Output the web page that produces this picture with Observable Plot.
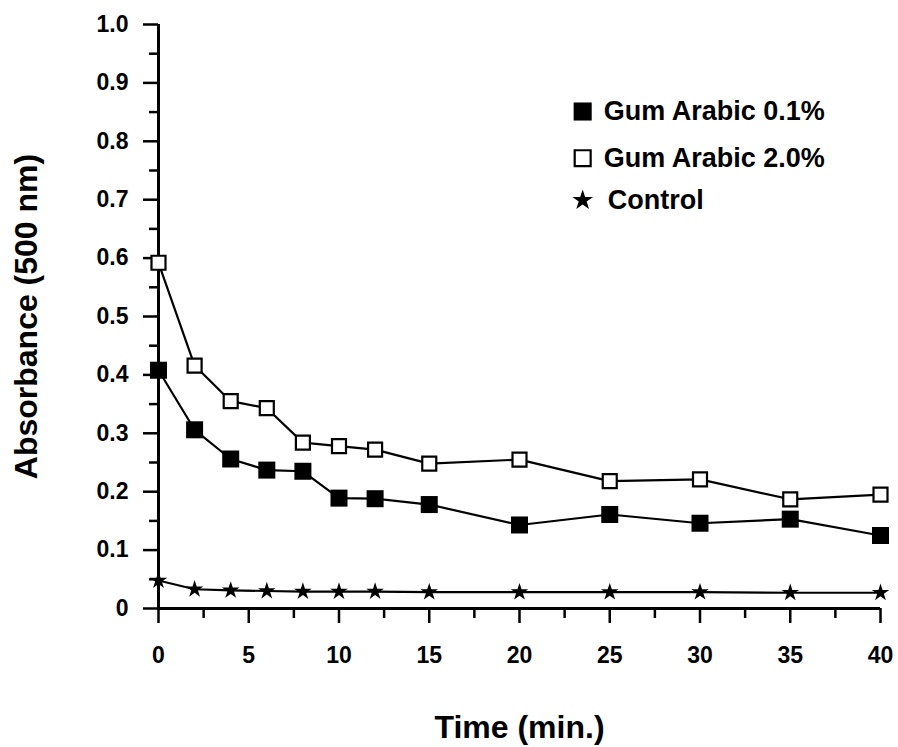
<!DOCTYPE html>
<html>
<head>
<meta charset="utf-8">
<script src="https://cdn.jsdelivr.net/npm/d3@7"></script>
<script src="https://cdn.jsdelivr.net/npm/@observablehq/plot@0.6"></script>
<style>
  html, body { margin: 0; padding: 0; background: white; }
  #chart { width: 898px; height: 747px; }
  #chart g[aria-label$="axis tick"], #chart g[aria-label$="axis tick"] path, #chart g[aria-label$="axis tick"] line { stroke-width: 2.5px !important; stroke: black; }
</style>
</head>
<body>
<div id="chart"></div>
<script>
// Data
const times   = [0, 2, 4, 6, 8, 10, 12, 15, 20, 25, 30, 35, 40];
const gum01   = [0.408, 0.306, 0.256, 0.237, 0.235, 0.189, 0.188, 0.178, 0.143, 0.161, 0.146, 0.153, 0.125];
const gum20   = [0.592, 0.416, 0.355, 0.343, 0.284, 0.278, 0.272, 0.248, 0.255, 0.218, 0.221, 0.187, 0.195];
const control = [0.048, 0.033, 0.031, 0.030, 0.029, 0.029, 0.029, 0.028, 0.028, 0.028, 0.028, 0.027, 0.027];

const seriesNames = ["Gum Arabic 0.1%", "Gum Arabic 2.0%", "Control"];
const xMajorTicks = [0, 5, 10, 15, 20, 25, 30, 35, 40];
const xMinorTicks = [2.5, 7.5, 12.5, 17.5, 22.5, 27.5, 32.5, 37.5];
const yMajorTicks = [0, 0.1, 0.2, 0.3, 0.4, 0.5, 0.6, 0.7, 0.8, 0.9, 1.0];
const yMinorTicks = [0.05, 0.15, 0.25, 0.35, 0.45, 0.55, 0.65, 0.75, 0.85, 0.95];
const xTitle = "Time (min.)";
const yTitle = "Absorbance (500 nm)";

// Legend placement (data coordinates)
const legendX = [23.5, 23.5, 23.5];
const legendY = [0.851, 0.771, 0.699];

const rows = [];
times.forEach((t, i) => {
  rows.push({t, v: gum01[i], s: seriesNames[0]});
  rows.push({t, v: gum20[i], s: seriesNames[1]});
  rows.push({t, v: control[i], s: seriesNames[2]});
});
const legend = seriesNames.map((s, i) => ({s, x: legendX[i], y: legendY[i]}));

const font = "'Liberation Sans', Arial, Helvetica, sans-serif";

const chart = Plot.plot({
  width: 898,
  height: 747,
  marginLeft: 158,
  marginRight: 18,
  marginTop: 24,
  marginBottom: 139,
  style: {fontFamily: font, fontWeight: "bold", fontSize: "23px", color: "black", background: "white", overflow: "visible"},
  x: {domain: [0, 40]},
  y: {domain: [0, 1]},
  marks: [
    // y axis ticks and labels
    Plot.axisY({ticks: yMajorTicks, tickSize: 15, tickPadding: 15, strokeWidth: 2.5,
      tickFormat: d => d === 0 ? "0" : d.toFixed(1), label: null, fontSize: 23}),
    Plot.axisY({ticks: yMinorTicks, tickSize: 9, strokeWidth: 2.5, tickFormat: () => "", label: null}),
    // x axis ticks and labels
    Plot.axisX({ticks: xMajorTicks, tickSize: 15, tickPadding: 23, strokeWidth: 2.5,
      tickFormat: d => String(d), label: null, fontSize: 23}),
    Plot.axisX({ticks: xMinorTicks, tickSize: 10, strokeWidth: 2.5, tickFormat: () => "", label: null}),
    // axis lines
    Plot.ruleX([0], {y1: 0, y2: 1, stroke: "black", strokeWidth: 3}),
    Plot.ruleY([0], {x1: 0, x2: 40, stroke: "black", strokeWidth: 3}),
    // axis titles
    Plot.text([xTitle], {frameAnchor: "bottom", textAnchor: "middle", lineAnchor: "middle", dy: 119,
      fontSize: 32, fontWeight: "bold", fill: "black"}),
    Plot.text([yTitle], {frameAnchor: "left", textAnchor: "middle", lineAnchor: "middle", rotate: -90, dx: -132,
      fontSize: 32, fontWeight: "bold", fill: "black"}),
    // series lines
    Plot.line(rows, {x: "t", y: "v", z: "s", stroke: "black", strokeWidth: 2.2}),
    // markers
    Plot.dot(rows.filter(d => d.s === seriesNames[2]), {x: "t", y: "v", symbol: "star", r: 5.5, fill: "black", stroke: "none"}),
    Plot.dot(rows.filter(d => d.s === seriesNames[1]), {x: "t", y: "v", symbol: "square", r: 7.9, fill: "white", stroke: "black", strokeWidth: 2.2}),
    Plot.dot(rows.filter(d => d.s === seriesNames[0]), {x: "t", y: "v", symbol: "square", r: 9.6, fill: "black", stroke: "none"}),
    // legend
    Plot.dot([legend[0]], {x: "x", y: "y", symbol: "square", r: 10.2, fill: "black", stroke: "none"}),
    Plot.dot([legend[1]], {x: "x", y: "y", symbol: "square", r: 9, fill: "white", stroke: "black", strokeWidth: 2.2}),
    Plot.dot([legend[2]], {x: "x", y: "y", symbol: "star", r: 6.5, fill: "black", stroke: "none"}),
    Plot.text(legend.slice(0, 2), {x: "x", y: "y", text: "s", textAnchor: "start", lineAnchor: "middle", dx: 21,
      fontSize: 27, fontWeight: "bold", fill: "black"}),
    Plot.text(legend.slice(2), {x: "x", y: "y", text: "s", textAnchor: "start", lineAnchor: "middle", dx: 25,
      fontSize: 27, fontWeight: "bold", fill: "black"})
  ]
});
document.getElementById("chart").appendChild(chart);
</script>
</body>
</html>
